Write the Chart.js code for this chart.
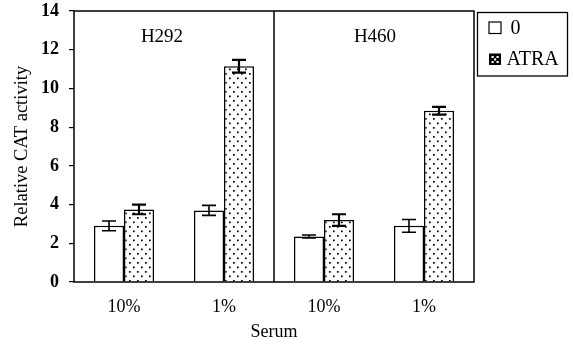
<!DOCTYPE html>
<html><head><meta charset="utf-8">
<script src="https://cdn.jsdelivr.net/npm/chart.js@4/dist/chart.umd.min.js"></script>
<style>html,body{margin:0;padding:0;background:#fff}#wrap{width:573px;height:344px}</style>
</head><body><div id="wrap"><canvas id="c" width="573" height="344"></canvas></div>
<script>
const categories = ['10%', '1%', '10%', '1%'];
const panels = ['H292', 'H460'];
const seriesNames = ['0', 'ATRA'];
const control = [2.9, 3.7, 2.35, 2.9];
const controlErr = [0.25, 0.26, 0.08, 0.33];
const atra = [3.75, 11.15, 3.2, 8.85];
const atraErr = [0.25, 0.33, 0.3, 0.2];
const yTicks = [0, 2, 4, 6, 8, 10, 12, 14];

const FONT = '"Liberation Serif", "Times New Roman", serif';

function makePattern() {
  const c = document.createElement('canvas');
  c.width = 8; c.height = 9;
  const g = c.getContext('2d');
  g.fillStyle = '#fff'; g.fillRect(0, 0, 8, 9);
  g.fillStyle = '#000';
  g.fillRect(1, 1, 1.7, 1.7);
  g.fillRect(5, 5.5, 1.7, 1.7);
  return document.getElementById('c').getContext('2d').createPattern(c, 'repeat');
}
const dots = makePattern();
const errs = [controlErr, atraErr];

const extras = {
  id: 'extras',
  afterDatasetsDraw(chart) {
    const ctx = chart.ctx, a = chart.chartArea, y = chart.scales.y, x = chart.scales.x;
    ctx.save();
    // error bars
    chart.data.datasets.forEach((ds, di) => {
      const meta = chart.getDatasetMeta(di);
      meta.data.forEach((bar, i) => {
        const v = ds.data[i], e = errs[di][i];
        const top = y.getPixelForValue(v + e), bot = y.getPixelForValue(v - e);
        ctx.strokeStyle = '#000';
        ctx.lineWidth = di === 1 ? 2.2 : 1.6;
        ctx.beginPath();
        ctx.moveTo(bar.x, top); ctx.lineTo(bar.x, bot);
        ctx.moveTo(bar.x - 7, top); ctx.lineTo(bar.x + 7, top);
        ctx.moveTo(bar.x - 7, bot); ctx.lineTo(bar.x + 7, bot);
        ctx.stroke();
      });
    });
    // frame
    ctx.strokeStyle = '#000'; ctx.lineWidth = 1.5;
    ctx.strokeRect(a.left, a.top, a.right - a.left, a.bottom - a.top);
    const mid = (x.getPixelForValue(1) + x.getPixelForValue(2)) / 2;
    ctx.beginPath(); ctx.moveTo(mid, a.top); ctx.lineTo(mid, a.bottom); ctx.stroke();
    // panel labels
    ctx.fillStyle = '#000';
    ctx.font = '19px ' + FONT;
    ctx.textAlign = 'center'; ctx.textBaseline = 'middle';
    ctx.fillText(panels[0], (a.left + mid) / 2 - 12, 37);
    ctx.fillText(panels[1], (mid + a.right) / 2 + 1, 37);
    // legend
    ctx.lineWidth = 1.3;
    ctx.strokeRect(477.5, 12.5, 90, 63.5);
    ctx.font = '20px ' + FONT;
    ctx.textAlign = 'left';
    ctx.fillStyle = '#fff';
    ctx.fillRect(489, 22, 12, 11.5);
    ctx.lineWidth = 1.2;
    ctx.strokeRect(489, 22, 12, 11.5);
    ctx.fillStyle = '#000';
    ctx.fillRect(489, 53.5, 12, 11.5);
    ctx.fillStyle = '#fff';
    ctx.fillRect(491.5, 56, 2.2, 2); ctx.fillRect(496.5, 56, 2.2, 2);
    ctx.fillRect(494, 58.5, 2.2, 2);
    ctx.fillRect(491.5, 61, 2.2, 2); ctx.fillRect(496.5, 61, 2.2, 2);
    ctx.fillStyle = '#000';
    ctx.fillText(seriesNames[0], 510.5, 29);
    ctx.fillText(seriesNames[1], 506.5, 60);
    ctx.restore();
  }
};

new Chart(document.getElementById('c'), {
  type: 'bar',
  data: {
    labels: categories,
    datasets: [
      { label: seriesNames[0], data: control, backgroundColor: '#fff', borderColor: '#000', borderWidth: 1.5, borderSkipped: 'bottom' },
      { label: seriesNames[1], data: atra, backgroundColor: dots, borderColor: '#000', borderWidth: 1.5, borderSkipped: 'bottom' }
    ]
  },
  options: {
    responsive: false, animation: false, devicePixelRatio: 1,
    layout: { padding: { top: 11, right: 99, left: 0, bottom: 0 } },
    datasets: { bar: { categoryPercentage: 0.6, barPercentage: 1 } },
    plugins: { legend: { display: false }, tooltip: { enabled: false } },
    scales: {
      x: {
        grid: { display: false },
        border: { display: false },
        ticks: { color: '#000', font: { family: FONT, size: 18 }, padding: 6 },
        title: { display: true, text: 'Serum', color: '#000', font: { family: FONT, size: 18 }, padding: { top: 0, bottom: 1 } },
        afterFit(s) { s.height = 62; s.paddingLeft = 0; s.paddingRight = 0; }
      },
      y: {
        min: 0, max: 14,
        afterBuildTicks(s) { s.ticks = yTicks.map(v => ({ value: v })); },
        grid: { display: true, drawOnChartArea: false, drawTicks: true, tickLength: 5, color: '#000', lineWidth: 1.2 },
        border: { display: false },
        ticks: { color: '#000', font: { family: FONT, size: 18, weight: 'bold' }, padding: 10 },
        title: { display: true, text: 'Relative CAT activity', color: '#000', font: { family: FONT, size: 18.5 }, padding: { top: 11, bottom: 0 } },
        afterFit(s) { s.width = 74; s.paddingTop = 0; s.paddingBottom = 0; }
      }
    }
  },
  plugins: [extras]
});
</script></body></html>
